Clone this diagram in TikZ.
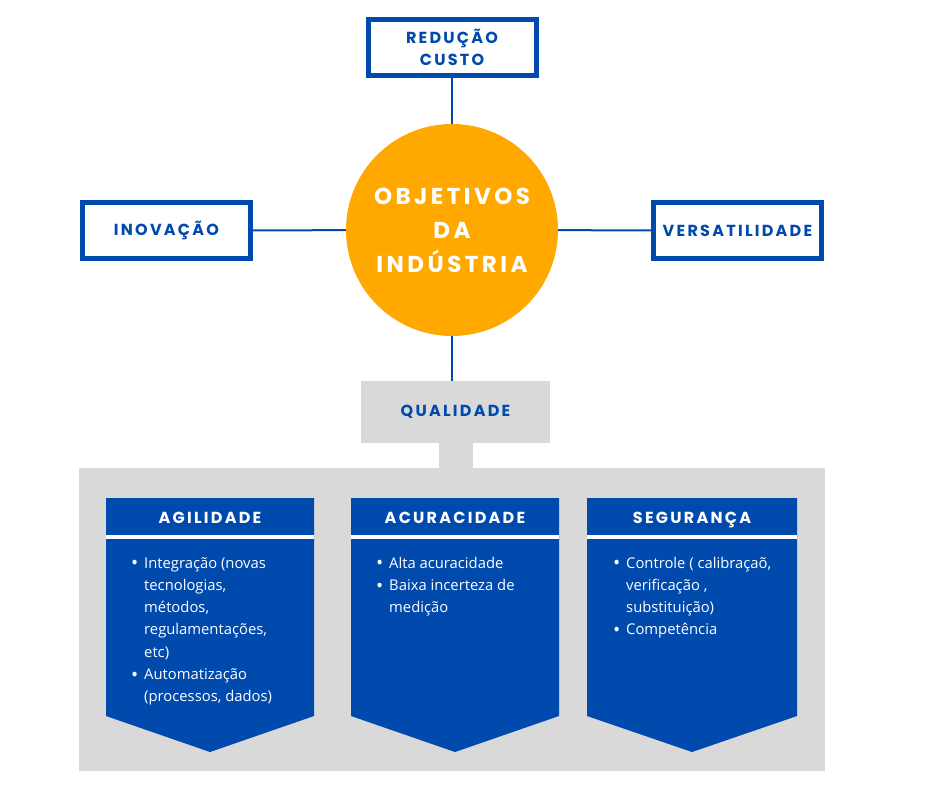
\documentclass[tikz,border=0pt]{standalone}
\usepackage{fontspec}
\setmainfont{Open Sans}
\newfontfamily\hfont{Poppins}[LetterSpace=14]
\newfontfamily\cfont{Poppins}[LetterSpace=15]
\definecolor{ablue}{HTML}{004AAD}
\definecolor{aorange}{HTML}{FFA800}
\definecolor{agray}{HTML}{D9D9D9}
\tikzset{
  obox/.style={draw=ablue, line width=5pt, fill=white, minimum width=168pt, minimum height=56pt,
    inner sep=0pt, align=center, text=ablue, font=\hfont\bfseries\fontsize{16}{22}\selectfont},
  link/.style={draw=ablue, line width=2pt},
  htitle/.style={text=white, inner sep=0pt, anchor=base, font=\hfont\bfseries\fontsize{16}{16}\selectfont},
  body/.style={text=white, inner sep=0pt, anchor=base west, font=\fontsize{14.8}{22.3}\selectfont},
  panel/.style={fill=ablue}
}
\newcommand{\bul}{\makebox[13pt][l]{\raisebox{-1.7pt}{\fontsize{19}{19}\selectfont •}}}
\begin{document}
\begin{tikzpicture}[x=1pt,y=-1pt]
\useasboundingbox (0,0) rectangle (940,788);
% top boxes and circle
\node[obox] (red) at (452,47) {REDUÇÃO\\CUSTO};
\node[obox] (inov) at (166.5,230.5) {INOVAÇÃO};
\node[obox] (vers) at (737.5,230.5) {VERSATILIDADE};
\node[circle, fill=aorange, minimum size=212pt, inner sep=0pt, align=center, text=white,
  font=\cfont\bfseries\fontsize{23}{34}\selectfont] (obj) at (452,230) {OBJETIVOS\\DA\\INDÚSTRIA};
% quality
\node[fill=agray, minimum width=189pt, minimum height=62pt, inner sep=0pt, text=ablue,
  font=\hfont\bfseries\fontsize{16}{16}\selectfont] (qual) at (455.5,412) {QUALIDADE};
\node[fill=agray, minimum width=746pt, minimum height=303pt, inner sep=0pt] (base) at (452,619.5) {};
\fill[agray] (439,442) rectangle (473,469);
% connectors
\draw[link] (red) -- (obj);
\draw[link] (inov) -- (obj);
\draw[link] (obj) -- (vers);
\draw[link] (obj.south) -- (obj.south |- qual.north);
% panel 1
\fill[panel] (106,498) -- (314,498) -- (314,716) -- (210,752) -- (106,716) -- cycle;
\fill[white] (106,535) rectangle (314,539);
\node[htitle] (h1) at (210,523.5) {AGILIDADE};
\node[body] (b1) at (131,568) {\begin{tabular}[t]{@{}l@{}l@{}}
\bul & Integração (novas\\ & tecnologias,\\ & métodos,\\ & regulamentações,\\ & etc)\\
\bul & Automatização\\ & (processos, dados)
\end{tabular}};
% panel 2
\fill[panel] (351,498) -- (559,498) -- (559,716) -- (455,752) -- (351,716) -- cycle;
\fill[white] (351,535) rectangle (559,539);
\node[htitle] (h2) at (455,523.5) {ACURACIDADE};
\node[body] (b2) at (376,568) {\begin{tabular}[t]{@{}l@{}l@{}}
\bul & Alta acuracidade\\
\bul & Baixa incerteza de\\ & medição
\end{tabular}};
% panel 3
\fill[panel] (587,498) -- (797,498) -- (797,716) -- (692,752) -- (587,716) -- cycle;
\fill[white] (587,535) rectangle (797,539);
\node[htitle] (h3) at (692,523.5) {SEGURANÇA};
\node[body] (b3) at (613,568) {\begin{tabular}[t]{@{}l@{}l@{}}
\bul & Controle ( calibraçaõ,\\ & verificação ,\\ & substituição)\\
\bul & Competência
\end{tabular}};
\end{tikzpicture}
\end{document}
